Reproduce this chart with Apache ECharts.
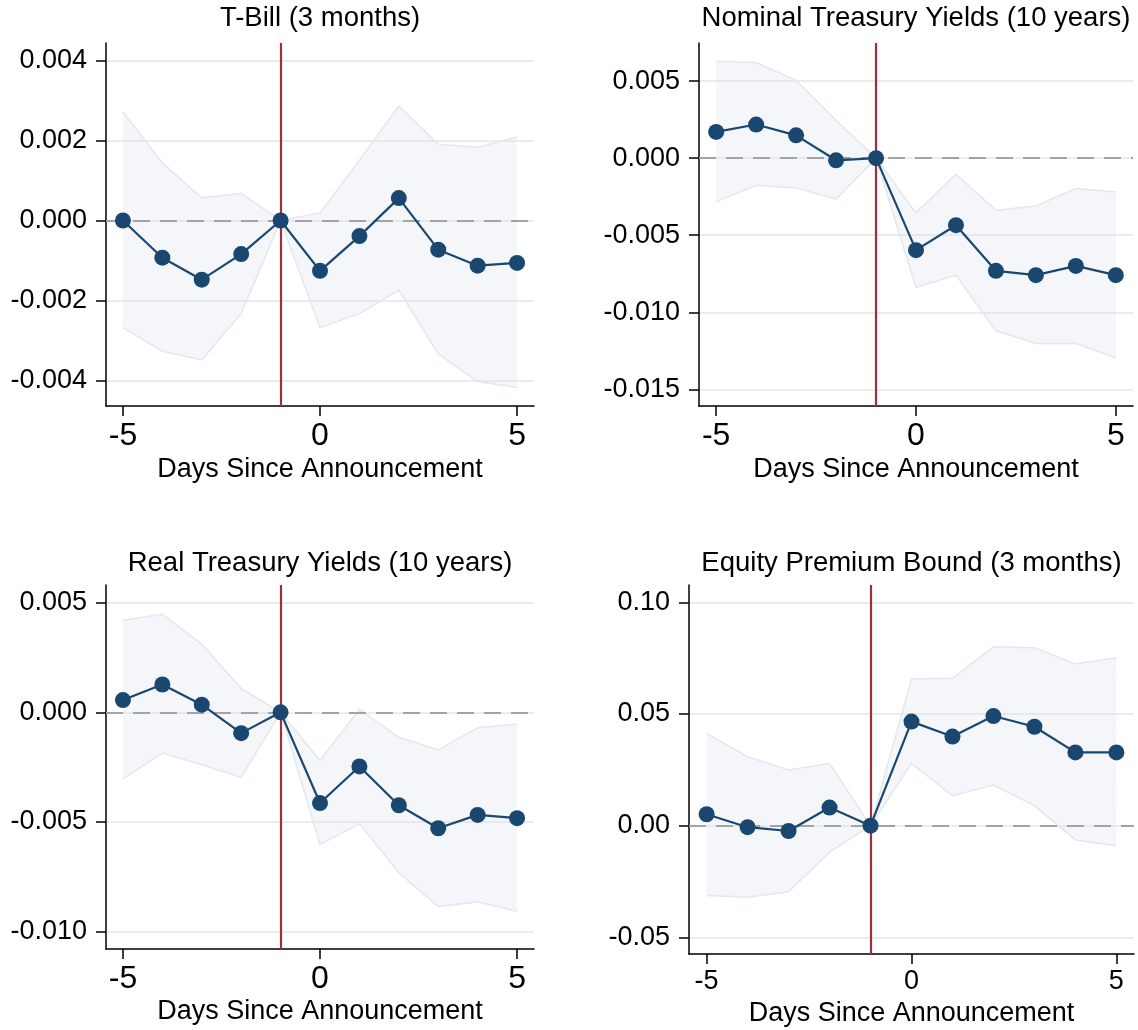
<!DOCTYPE html>
<html>
<head>
<meta charset="utf-8">
<script src="https://cdn.jsdelivr.net/npm/echarts@6/dist/echarts.min.js"></script>
<style>
html,body{margin:0;padding:0;background:#fff;}
#chart{width:1138px;height:1030px;}
</style>
</head>
<body>
<div id="chart"></div>
<script>
// ---- data ----
const days = [-5, -4, -3, -2, -1, 0, 1, 2, 3, 4, 5];
const dayTicks = [-5, 0, 5];
const xName = 'Days Since Announcement';

const titles = ['T-Bill (3 months)', 'Nominal Treasury Yields (10 years)', 'Real Treasury Yields (10 years)', 'Equity Premium Bound (3 months)'];

const tbillEst = [0.0000, -0.00093, -0.00148, -0.00084, 0, -0.00126, -0.00039, 0.00056, -0.00073, -0.00113, -0.00106];
const tbillHi  = [0.00272, 0.00144, 0.00057, 0.00068, 0, 0.00019, 0.00151, 0.00286, 0.00191, 0.00183, 0.00209];
const tbillLo  = [-0.00268, -0.00327, -0.00349, -0.00233, 0, -0.00268, -0.00233, -0.00174, -0.00334, -0.00403, -0.00418];
const tbillTicks = [-0.004, -0.002, 0, 0.002, 0.004];

const nomEst = [0.00170, 0.00218, 0.00148, -0.00014, 0, -0.00597, -0.00435, -0.00731, -0.00759, -0.00699, -0.00759];
const nomHi  = [0.00628, 0.00620, 0.00505, 0.00246, 0, -0.00355, -0.00104, -0.00338, -0.00310, -0.00197, -0.00219];
const nomLo  = [-0.00284, -0.00176, -0.00193, -0.00266, 0, -0.00839, -0.00759, -0.01120, -0.01202, -0.01202, -0.01295];
const nomTicks = [-0.015, -0.010, -0.005, 0, 0.005];

const realEst = [0.00056, 0.00127, 0.00035, -0.00095, 0, -0.00414, -0.00247, -0.00424, -0.00529, -0.00468, -0.00483];
const realHi  = [0.00420, 0.00447, 0.00311, 0.00109, 0, -0.00220, 0.00014, -0.00114, -0.00171, -0.00070, -0.00053];
const realLo  = [-0.00305, -0.00186, -0.00239, -0.00297, 0, -0.00603, -0.00509, -0.00732, -0.00886, -0.00865, -0.00908];
const realTicks = [-0.010, -0.005, 0, 0.005];

const eqEst = [0.0051, -0.0007, -0.0024, 0.0081, 0, 0.0466, 0.0399, 0.0491, 0.0443, 0.0328, 0.0328];
const eqHi  = [0.0413, 0.0309, 0.0249, 0.0279, 0, 0.0657, 0.0660, 0.0801, 0.0797, 0.0724, 0.0752];
const eqLo  = [-0.0313, -0.0321, -0.0296, -0.0119, 0, 0.0279, 0.0134, 0.0182, 0.0090, -0.0064, -0.0090];
const eqTicks = [-0.05, 0, 0.05, 0.10];

const panels = [
  {est: tbillEst, hi: tbillHi, lo: tbillLo, ticks: tbillTicks, dec: 3, ymin: -0.00464, ymax: 0.00444},
  {est: nomEst, hi: nomHi, lo: nomLo, ticks: nomTicks, dec: 3, ymin: -0.01608, ymax: 0.00747},
  {est: realEst, hi: realHi, lo: realLo, ticks: realTicks, dec: 3, ymin: -0.0108, ymax: 0.00581},
  {est: eqEst, hi: eqHi, lo: eqLo, ticks: eqTicks, dec: 2, ymin: -0.0575, ymax: 0.1078}
];

// ---- layout / style ----
const FONT = '"Liberation Sans", Arial, Helvetica, sans-serif';
const grids = [
  {left: 106, top: 43, width: 428, height: 363},
  {left: 699, top: 43, width: 434, height: 363},
  {left: 106, top: 585, width: 428, height: 364},
  {left: 689, top: 585, width: 445, height: 369}
];
const xLabelSize = [32, 32, 32, 27];
const xLabelMargin = [14, 14, 14, 14];
const nameGaps = [50, 50, 49, 46];
const titleY = [4, 4, 549, 549];
const NAVY = '#1a476f';
const RED = '#a02f3a';
const BAND_FILL = 'rgba(212,221,232,0.25)';
const BAND_EDGE = '#e3e8ee';

const xAxes = [], yAxes = [], series = [], graphics = [];
panels.forEach((p, i) => {
  const g = grids[i];
  xAxes.push({
    type: 'value', gridIndex: i, min: -5.43, max: 5.43,
    axisLine: {show: true, onZero: false, lineStyle: {color: '#000', width: 1.5}},
    axisTick: {show: true, length: 10, customValues: dayTicks, lineStyle: {color: '#000', width: 1.5}},
    axisLabel: {show: true, customValues: dayTicks, fontSize: xLabelSize[i], color: '#000', fontFamily: FONT, margin: xLabelMargin[i]},
    splitLine: {show: false},
    name: xName, nameLocation: 'middle', nameGap: nameGaps[i],
    nameTextStyle: {fontSize: 27, color: '#000', fontFamily: FONT}
  });
  yAxes.push({
    type: 'value', gridIndex: i, min: p.ymin, max: p.ymax,
    axisLine: {show: true, onZero: false, lineStyle: {color: '#000', width: 1.5}},
    axisTick: {show: true, length: 10, customValues: p.ticks, lineStyle: {color: '#000', width: 1.5}},
    axisLabel: {show: true, customValues: p.ticks, fontSize: 27, color: '#000', fontFamily: FONT, margin: 19,
      formatter: (v) => Number(v).toFixed(p.dec)},
    splitLine: {show: true, lineStyle: {color: '#e6e6e6', width: 1.5}}
  });
  // confidence band as a polygon through the axes' scales
  series.push({
    type: 'custom', xAxisIndex: i, yAxisIndex: i, z: 1, silent: true,
    data: days.map((d, k) => [d, p.lo[k], p.hi[k]]),
    renderItem: function (params, api) {
      if (params.dataIndex !== 0) return null;
      const upper = days.map((d, k) => api.coord([d, p.hi[k]]));
      const lower = days.map((d, k) => api.coord([d, p.lo[k]])).reverse();
      return {
        type: 'group',
        children: [
          {type: 'polygon', shape: {points: upper.concat(lower)}, style: {fill: BAND_FILL, stroke: null}},
          {type: 'polyline', shape: {points: upper}, style: {fill: null, stroke: BAND_EDGE, lineWidth: 1.5}},
          {type: 'polyline', shape: {points: lower}, style: {fill: null, stroke: BAND_EDGE, lineWidth: 1.5}}
        ]
      };
    }
  });
  // reference lines
  series.push({
    type: 'line', xAxisIndex: i, yAxisIndex: i, z: 2, silent: true,
    data: [],
    markLine: {
      silent: true, symbol: 'none', label: {show: false}, animation: false,
      data: [
        {yAxis: 0, lineStyle: {color: '#a3a3a3', type: [17, 10], width: 2}},
        {xAxis: -1, lineStyle: {color: RED, type: 'solid', width: 2.2}}
      ]
    }
  });
  series.push({
    type: 'line', xAxisIndex: i, yAxisIndex: i,
    data: days.map((d, k) => [d, p.est[k]]),
    symbol: 'circle', symbolSize: 16, z: 5,
    itemStyle: {color: NAVY},
    lineStyle: {color: NAVY, width: 2.2}
  });
  graphics.push({
    type: 'text', x: g.left + g.width / 2, y: titleY[i],
    style: {text: titles[i], font: '27.5px ' + FONT, fill: '#000', textAlign: 'center', textVerticalAlign: 'top'}
  });
});

const chart = echarts.init(document.getElementById('chart'), null, {renderer: 'canvas'});
chart.setOption({
  animation: false,
  backgroundColor: '#fff',
  grid: grids.map(g => Object.assign({containLabel: false}, g)),
  xAxis: xAxes,
  yAxis: yAxes,
  series: series,
  graphic: graphics
});
</script>
</body>
</html>
